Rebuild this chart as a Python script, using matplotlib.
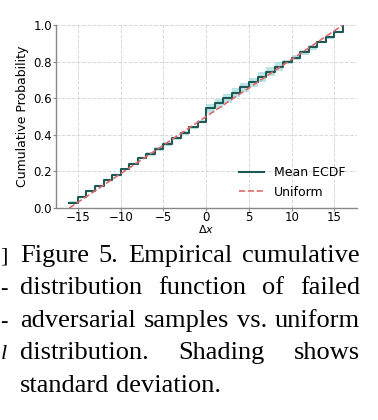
import numpy as np
import matplotlib
matplotlib.use("Agg")
import matplotlib.pyplot as plt

# data
dx = np.arange(-16, 17)
mean_ecdf = [0.030, 0.061, 0.091, 0.121, 0.152, 0.182, 0.212, 0.242, 0.273,
             0.295, 0.322, 0.350, 0.380, 0.410, 0.440, 0.472,
             0.545, 0.572, 0.600, 0.630, 0.660, 0.688, 0.716, 0.745, 0.772,
             0.798, 0.822, 0.850, 0.878, 0.905, 0.932, 0.962, 1.000]
std_ecdf = [0.006] * 9 + [0.010] * 7 + [0.025] * 9 + [0.012] * 4 + [0.006] * 3 + [0.0]
uniform_x = [-16, 16]
uniform_y = [0.0, 1.0]

caption_lines = [
    "Figure 5.  Empirical cumulative",
    "distribution function of failed",
    "adversarial samples vs. uniform",
    "distribution.   Shading shows",
    "standard deviation.",
]
side_marks = ["]", "-", "-", "l"]

W, H = 378, 420
fig = plt.figure(figsize=(W / 100, H / 100), dpi=100)
ax = fig.add_axes([55.7 / W, 1 - 208 / H, 301 / W, 183 / H])

mean_ecdf = np.array(mean_ecdf)
std_ecdf = np.array(std_ecdf)
ax.fill_between(dx, mean_ecdf - std_ecdf, mean_ecdf + std_ecdf, step="post",
                color="#8fd3d8", alpha=0.6, linewidth=0)
ax.step(dx, mean_ecdf, where="post", color="#1d5955", linewidth=1.5, label="Mean ECDF")
ax.plot(uniform_x, uniform_y, "--", color="#e06a6a", linewidth=1.2, label="Uniform")

ax.set_ylim(0, 1)
ax.set_xticks([-15, -10, -5, 0, 5, 10, 15])
ax.set_yticks([0.0, 0.2, 0.4, 0.6, 0.8, 1.0])
ax.grid(True, linestyle="--", color="#d8d8d8", linewidth=0.7)
ax.set_axisbelow(True)
for side in ["top", "right"]:
    ax.spines[side].set_visible(False)
for side in ["left", "bottom"]:
    ax.spines[side].set_color("#888888")
    ax.spines[side].set_linewidth(1.0)
ax.tick_params(labelsize=8.5, length=2, width=0.8, color="#888888", pad=0.5)
ax.set_xlabel(r"$\Delta x$", fontsize=8, labelpad=-1)
ax.set_ylabel("Cumulative Probability", fontsize=9, labelpad=3)
ax.legend(loc="lower right", frameon=False, fontsize=9, handlelength=2.0,
          bbox_to_anchor=(1.0, -0.01))

# caption, justified between two pixel columns
x_left, x_right = 20, 360
baselines = [261.7, 294, 326.7, 359, 391.7]
renderer = fig.canvas.get_renderer()
for n, line in enumerate(caption_lines):
    words = line.split()
    y = 1 - baselines[n] / H
    texts = [fig.text(0, y, w, fontsize=19, family="Liberation Serif", va="baseline")
             for w in words]
    widths = [t.get_window_extent(renderer).width for t in texts]
    if n < len(caption_lines) - 1:
        gap = (x_right - x_left - sum(widths)) / (len(words) - 1)
    else:
        gap = texts[0].get_fontsize() * 100 / 72 * 0.25
    x = x_left
    for t, w in zip(texts, widths):
        t.set_x(x / W)
        x += w + gap

# bits of the neighbouring column, kept inside the frame
for n, mark in enumerate(side_marks):
    fig.text(0.5 / W, 1 - baselines[n] / H, mark, fontsize=16, family="Liberation Serif",
             va="baseline", ha="left", style="italic" if mark == "l" else "normal")

fig.savefig("out.png", dpi=100)
